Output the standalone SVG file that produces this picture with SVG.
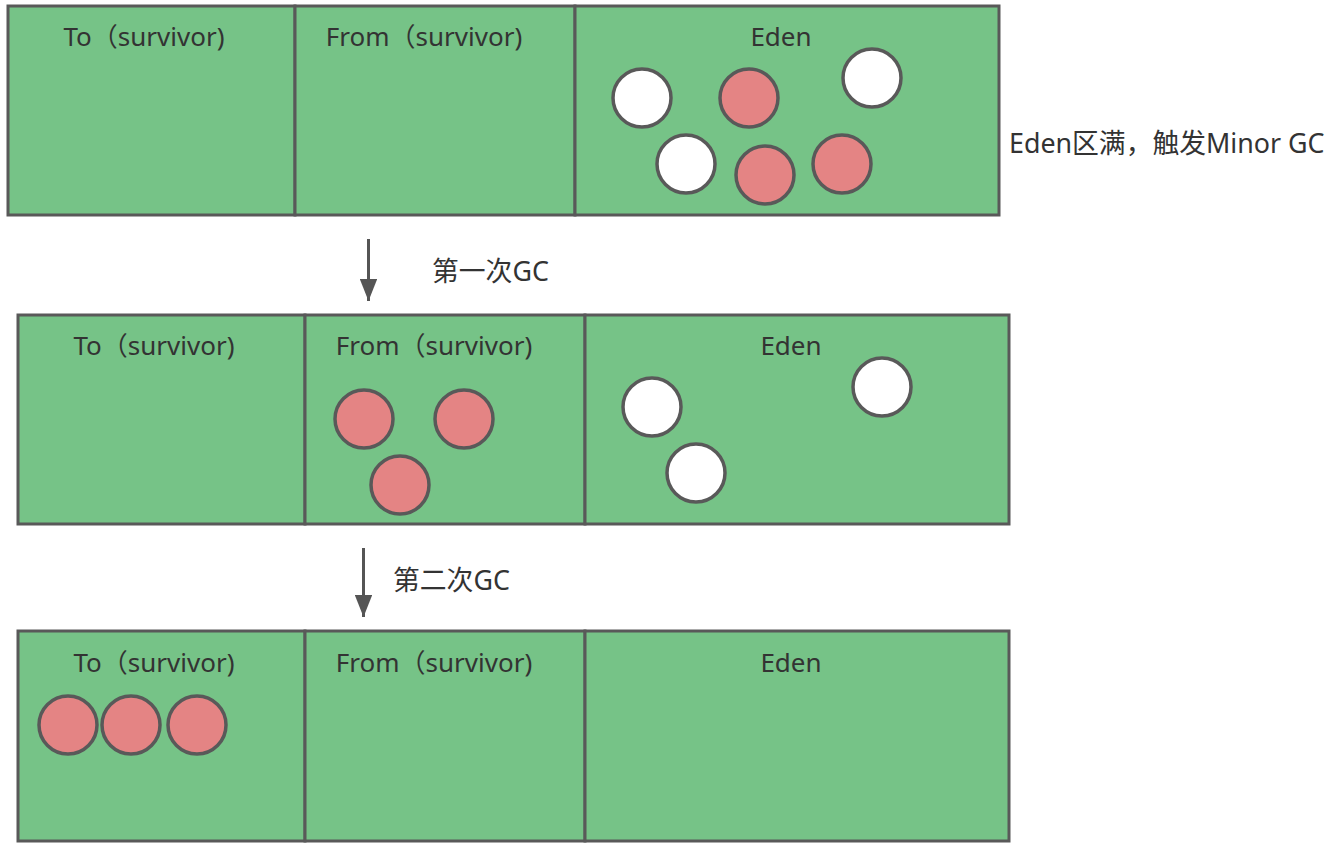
<svg xmlns="http://www.w3.org/2000/svg" width="1344" height="847" viewBox="0 0 1344 847">
<defs>
<style>
.cell{fill:#76c387;stroke:#595959;stroke-width:3}
.t{font-family:"Noto Sans","Noto Sans CJK SC",sans-serif;font-size:26px;fill:#333333}
.big{font-size:26.8px}
.c{text-anchor:middle}
.w{fill:#ffffff;stroke:#595959;stroke-width:3.5}
.r{fill:#e48484;stroke:#595959;stroke-width:3.5}
.a{stroke:#555555;stroke-width:3;fill:none}
</style>
<marker id="ah" viewBox="0 0 10 10" refX="10" refY="5" markerWidth="7.3" markerHeight="5.8" markerUnits="strokeWidth" orient="auto" preserveAspectRatio="none">
<path d="M0,0 L10,5 L0,10 z" fill="#555555"/>
</marker>
</defs>
<rect width="1344" height="847" fill="#ffffff"/>
<g id="row1">
<g id="r1-to"><rect class="cell" x="8" y="6" width="287" height="209"/><text class="t c" x="144" y="46">To（survivor)</text></g>
<g id="r1-from"><rect class="cell" x="295" y="6" width="280" height="209"/><text class="t c" x="424" y="46">From（survivor)</text></g>
<g id="r1-eden"><rect class="cell" x="575" y="6" width="424" height="209"/><text class="t c" x="781" y="46">Eden</text>
<circle class="w" cx="642" cy="98" r="29"/>
<circle class="r" cx="749" cy="98" r="29"/>
<circle class="w" cx="872" cy="78" r="29"/>
<circle class="w" cx="686" cy="164" r="29"/>
<circle class="r" cx="765" cy="175" r="29"/>
<circle class="r" cx="842" cy="164" r="29"/>
</g>
</g>
<g id="note"><text class="t big" x="1009" y="153">Eden区满，触发Minor GC</text></g>
<g id="row2">
<g id="r2-to"><rect class="cell" x="18" y="315" width="287" height="209"/><text class="t c" x="154" y="355">To（survivor)</text></g>
<g id="r2-from"><rect class="cell" x="305" y="315" width="280" height="209"/><text class="t c" x="434" y="355">From（survivor)</text>
<circle class="r" cx="364" cy="419" r="29"/>
<circle class="r" cx="464" cy="419" r="29"/>
<circle class="r" cx="400" cy="485" r="29"/>
</g>
<g id="r2-eden"><rect class="cell" x="585" y="315" width="424" height="209"/><text class="t c" x="791" y="355">Eden</text>
<circle class="w" cx="652" cy="407" r="29"/>
<circle class="w" cx="882" cy="387" r="29"/>
<circle class="w" cx="696" cy="473" r="29"/>
</g>
</g>
<g id="row3">
<g id="r3-to"><rect class="cell" x="18" y="631" width="287" height="210"/><text class="t c" x="154" y="672">To（survivor)</text>
<circle class="r" cx="68" cy="725" r="29"/>
<circle class="r" cx="131" cy="725" r="29"/>
<circle class="r" cx="197" cy="725" r="29"/>
</g>
<g id="r3-from"><rect class="cell" x="305" y="631" width="280" height="210"/><text class="t c" x="434" y="672">From（survivor)</text></g>
<g id="r3-eden"><rect class="cell" x="585" y="631" width="424" height="210"/><text class="t c" x="791" y="672">Eden</text></g>
</g>
<g id="connectors">
<line class="a" x1="368.5" y1="239" x2="368.5" y2="301" marker-end="url(#ah)"/>
<line class="a" x1="363.5" y1="548" x2="363.5" y2="617" marker-end="url(#ah)"/>
</g>
<g id="labels">
<text class="t big" x="432" y="281">第一次GC</text>
<text class="t big" x="393" y="590">第二次GC</text>
</g>
</svg>
